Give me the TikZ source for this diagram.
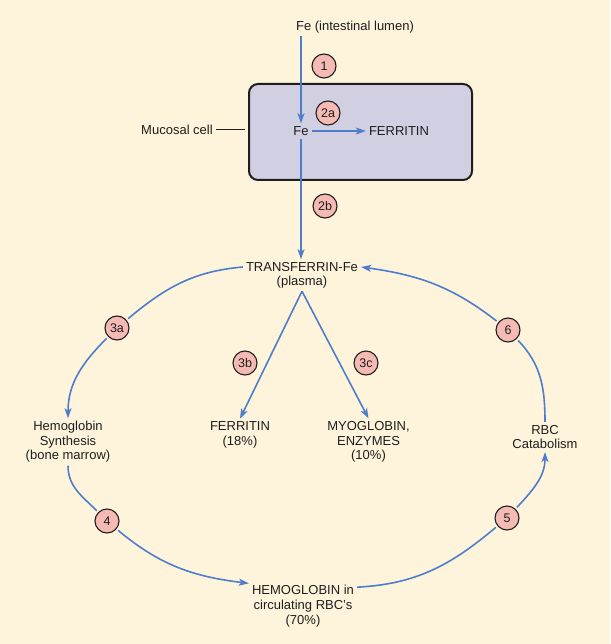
\documentclass[tikz,border=0pt]{standalone}
\usepackage{fontspec}
\setmainfont{Liberation Sans}
\usetikzlibrary{arrows.meta}
\definecolor{bgc}{RGB}{254,244,220}
\definecolor{pinkc}{RGB}{245,186,180}
\definecolor{cellc}{RGB}{209,208,227}
\definecolor{arrowc}{RGB}{78,126,202}
\definecolor{inkc}{RGB}{30,30,30}
\begin{document}
\begin{tikzpicture}[x=1pt,y=1pt,
  lbl/.style={font=\fontsize{13}{14.5}\selectfont, align=center, inner sep=3pt, text=inkc},
  num/.style={circle, draw=inkc, line width=1.1pt, fill=pinkc, minimum size=24pt, inner sep=0pt, outer sep=2.5pt, font=\fontsize{12.5}{14}\selectfont, text=inkc},
  flow/.style={draw=arrowc, line width=1.6pt, -{Stealth[length=10pt,width=7pt,inset=2.5pt]}},
  plainflow/.style={draw=arrowc, line width=1.6pt},
  leader/.style={draw=inkc, line width=1pt}]
\fill[bgc] (0,0) rectangle (610,-644);
\useasboundingbox (0,0) rectangle (610,-644);

% cell
\node[draw=inkc, fill=cellc, rounded corners=9pt, minimum width=223pt, minimum height=96pt, line width=2pt, inner sep=0pt] (cell) at (360.5,-132) {};

% texts
\node[lbl] (lumen) at (355,-27) {Fe (intestinal lumen)};
\node[lbl] (fe) at (301,-131) {Fe};
\node[lbl] (ferr1) at (399,-131) {FERRITIN};
\node[lbl] (muc) at (177,-130) {Mucosal cell};
\node[lbl] (trans) at (302,-267) {TRANSFERRIN-Fe};
\node[lbl] (plasma) at (302,-282) {(plasma)};
\node[lbl] (hsyn) at (68,-442) {Hemoglobin\\Synthesis\\(bone marrow)};
\node[lbl] (ferr2) at (240,-435) {FERRITIN\\(18\%)};
\node[lbl] (myo) at (368.5,-442) {MYOGLOBIN,\\ENZYMES\\(10\%)};
\node[lbl] (rbc) at (545,-437) {RBC\\Catabolism};
\node[lbl] (hglob) at (303,-590) {HEMOGLOBIN in};
\node[lbl] (hglob2) at (303,-613.5) {circulating RBC’s\\(70\%)};

% numbered circles
\node[num] (c1) at (324,-66) {1};
\node[num] (c2a) at (328,-113) {2a};
\node[num] (c2b) at (325,-206) {2b};
\node[num] (c3a) at (117,-328) {3a};
\node[num] (c3b) at (245,-363) {3b};
\node[num] (c3c) at (366,-363) {3c};
\node[num] (c6) at (508,-330) {6};
\node[num] (c4) at (107,-521) {4};
\node[num] (c5) at (507,-518) {5};

% mucosal leader
\draw[leader, shorten >=3pt] (muc.east) -- (muc.east -| cell.west);

% top arrows
\draw[flow] (fe |- lumen.south) -- (fe);
\draw[flow] (fe) -- (ferr1);
\draw[flow] (fe.south) -- (fe.south |- trans.north);

% plasma branches
\draw[flow] (plasma.south) -- (ferr2.north);
\draw[flow] (plasma.south) -- (myo.north);

% cycle
\draw[plainflow] (trans.west) to[out=185,in=40] (c3a);
\draw[flow] (c3a) to[out=225,in=90] (hsyn);
\draw[plainflow] (hsyn) to[out=270,in=135] (c4);
\draw[flow] (c4) to[out=320,in=173] (hglob);
\draw[plainflow] (hglob) to[out=3,in=220] (c5);
\draw[flow] (c5) to[out=47,in=270] (rbc);
\draw[plainflow] (rbc) to[out=90,in=314] (c6);
\draw[flow] (c6) to[out=142,in=352] (trans.east);
\end{tikzpicture}
\end{document}
